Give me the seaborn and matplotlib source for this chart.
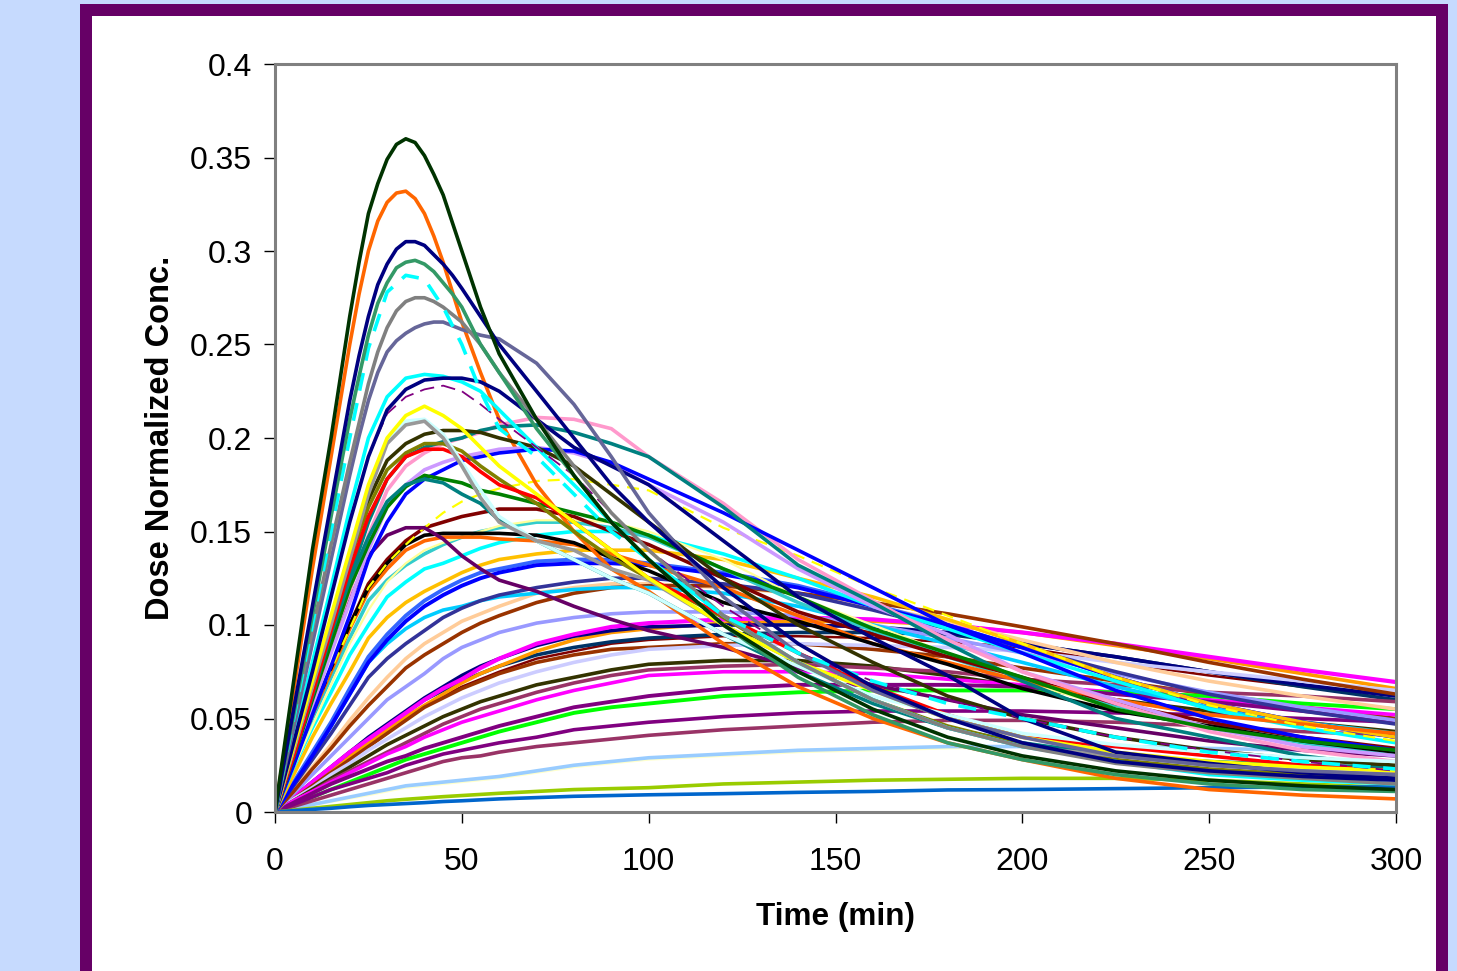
"""Dose normalized concentration profiles, one line per subject."""
import matplotlib
matplotlib.use("Agg")
import matplotlib.pyplot as plt
from matplotlib.patches import Rectangle
import seaborn as sns

W, H = 1457, 971

TIMES = [0, 5, 10, 15, 20, 25, 30, 35, 40, 45, 50, 55, 60, 70, 80, 90, 100, 120, 140, 160, 180, 200, 225, 250, 275, 300]
# the tallest curves turn fast around the peak, so they are read more often there
PEAK_TIMES = [0, 5, 10, 15, 20, 22.5, 25, 27.5, 30, 32.5, 35, 37.5, 40, 42.5, 45, 47.5, 50, 55, 60, 70, 80, 90, 100, 120, 140, 160, 180, 200, 225, 250, 275, 300]
X_TICKS = [0, 50, 100, 150, 200, 250, 300]
Y_TICKS = [0, 0.05, 0.1, 0.15, 0.2, 0.25, 0.3, 0.35, 0.4]
Y_LABELS = ["0", "0.05", "0.1", "0.15", "0.2", "0.25", "0.3", "0.35", "0.4"]

# values, px converted to conc
dark_green = [0, .07, .14, .2, .265, .294, .32, .336, .349, .357, .36, .358, .351, .341, .33, .315, .30, .27, .245, .21, .18, .155, .135, .10, .075, .055, .04, .03, .022, .017, .014, .012]
orange_high = [0, .065, .13, .19, .25, .277, .30, .316, .326, .331, .332, .328, .32, .308, .294, .278, .262, .235, .21, .175, .15, .13, .118, .09, .067, .05, .037, .028, .018, .012, .009, .007]
navy_high = [0, .055, .11, .165, .22, .244, .265, .282, .293, .301, .305, .305, .303, .298, .293, .287, .28, .265, .25, .225, .2, .175, .155, .12, .09, .067, .05, .037, .027, .022, .019, .017]
sea_green = [0, .052, .105, .158, .21, .233, .255, .272, .283, .291, .294, .295, .293, .289, .283, .277, .27, .25, .235, .205, .18, .155, .135, .10, .072, .052, .037, .028, .02, .015, .012, .011]
gray_high = [0, .05, .097, .143, .187, .208, .229, .246, .259, .268, .273, .275, .275, .273, .27, .266, .262, .25, .235, .21, .185, .16, .14, .105, .08, .06, .045, .035, .026, .021, .018, .015]
slate = [0, .045, .09, .135, .18, .201, .22, .235, .246, .252, .256, .259, .261, .262, .262, .26, .258, .255, .253, .24, .218, .19, .16, .115, .085, .065, .05, .04, .03, .025, .022, .02]
cyan_dashed = [0, .05, .1, .15, .2, .248, .278, .287, .285, .27, .25, .225, .205, .19, .17, .15, .135, .105, .085, .07, .058, .05, .04, .032, .027, .023]
cyan_mid = [0, .04, .08, .12, .162, .2, .222, .232, .234, .233, .23, .225, .215, .195, .175, .155, .135, .105, .08, .06, .045, .035, .027, .02, .017, .015]
navy_mid = [0, .037, .075, .115, .155, .19, .215, .226, .231, .232, .232, .23, .225, .21, .195, .185, .175, .145, .115, .093, .073, .05, .032, .026, .021, .018]
purple_dashed = [0, .037, .076, .116, .156, .19, .213, .222, .226, .228, .225, .218, .21, .195, .18, .16, .14, .11, .085, .07, .06, .05, .04, .033, .027, .022]
yellow_high = [0, .035, .07, .105, .14, .175, .2, .212, .217, .212, .205, .195, .185, .17, .155, .14, .125, .1, .08, .065, .05, .04, .032, .027, .024, .022]
pale_cyan = [0, .034, .068, .102, .137, .172, .199, .209, .21, .202, .187, .172, .158, .145, .135, .125, .117, .095, .078, .062, .052, .042, .036, .032, .029, .027]
gray_mid = [0, .033, .067, .1, .135, .17, .197, .207, .209, .2, .185, .168, .155, .145, .14, .13, .124, .1, .08, .06, .045, .035, .03, .025, .022, .02]
dark_olive_high = [0, .033, .068, .103, .138, .167, .188, .197, .202, .204, .204, .203, .2, .195, .185, .17, .155, .125, .1, .08, .062, .05, .04, .033, .028, .025]
teal_high = [0, .03, .062, .095, .125, .155, .178, .19, .195, .198, .2, .204, .206, .207, .203, .197, .19, .163, .132, .112, .09, .07, .05, .04, .03, .024]
pink = [0, .03, .06, .09, .118, .148, .172, .185, .192, .197, .2, .203, .207, .211, .21, .205, .19, .165, .135, .113, .092, .075, .058, .043, .033, .027]
red = [0, .03, .063, .097, .13, .158, .178, .19, .194, .194, .19, .182, .175, .168, .155, .14, .125, .105, .085, .067, .052, .04, .035, .03, .025, .022]
blue_high = [0, .025, .052, .078, .105, .135, .155, .17, .178, .183, .188, .19, .192, .194, .193, .187, .178, .16, .14, .12, .10, .085, .065, .05, .04, .033]
lilac = [0, .028, .056, .085, .112, .14, .163, .175, .183, .187, .19, .192, .194, .195, .192, .186, .175, .155, .13, .11, .095, .075, .06, .045, .035, .03]
olive = [0, .032, .066, .1, .135, .163, .183, .192, .197, .197, .193, .185, .178, .165, .15, .136, .125, .104, .08, .06, .046, .036, .028, .023, .02, .018]
green = [0, .029, .06, .09, .12, .143, .163, .174, .18, .178, .176, .172, .17, .165, .16, .155, .148, .13, .115, .098, .085, .072, .055, .045, .038, .033]
teal_low = [0, .03, .062, .095, .124, .147, .166, .175, .178, .176, .17, .165, .156, .145, .135, .125, .117, .095, .075, .058, .045, .037, .03, .027, .025, .024]
yellow_dashed = [0, .027, .052, .076, .098, .12, .133, .143, .152, .16, .166, .17, .173, .177, .178, .175, .172, .152, .137, .12, .105, .09, .072, .057, .046, .038]
maroon = [0, .027, .052, .077, .1, .122, .135, .145, .152, .155, .158, .16, .162, .162, .158, .15, .143, .125, .107, .095, .083, .072, .058, .048, .04, .034]
pale_yellow_mid = [0, .024, .046, .068, .09, .108, .123, .133, .14, .144, .147, .15, .153, .156, .156, .155, .15, .135, .115, .1, .085, .07, .055, .045, .038, .032]
turquoise = [0, .027, .05, .072, .093, .113, .124, .132, .138, .143, .147, .15, .152, .155, .155, .152, .147, .13, .112, .097, .083, .07, .057, .045, .037, .03]
black = [0, .028, .053, .077, .1, .12, .133, .143, .148, .149, .149, .149, .149, .148, .144, .136, .129, .112, .102, .09, .079, .066, .054, .046, .038, .032]
orange_mid = [0, .027, .052, .075, .098, .118, .13, .14, .145, .147, .147, .147, .146, .145, .143, .138, .132, .12, .105, .09, .08, .07, .06, .052, .047, .042]
dark_purple = [0, .033, .064, .09, .113, .137, .148, .152, .152, .146, .137, .13, .124, .118, .11, .103, .097, .088, .077, .068, .06, .052, .045, .038, .033, .03]
cyan_low = [0, .024, .045, .064, .084, .1, .115, .123, .13, .133, .137, .141, .144, .148, .15, .15, .148, .138, .125, .11, .098, .085, .07, .055, .045, .037]
gold = [0, .02, .04, .058, .075, .093, .104, .112, .118, .123, .128, .132, .135, .138, .14, .14, .14, .135, .125, .115, .103, .09, .072, .058, .048, .04]
royal_blue = [0, .016, .032, .048, .066, .083, .095, .105, .113, .119, .124, .128, .13, .134, .135, .135, .133, .128, .121, .111, .1, .088, .072, .058, .048, .04]
blue_low = [0, .015, .03, .046, .063, .08, .092, .102, .11, .116, .121, .125, .128, .132, .133, .133, .132, .127, .12, .11, .1, .088, .072, .058, .048, .04]
sky = [0, .015, .03, .046, .063, .08, .09, .098, .104, .108, .11, .113, .115, .117, .119, .12, .12, .117, .11, .1, .09, .08, .067, .056, .048, .042]
indigo = [0, .014, .028, .042, .057, .072, .082, .09, .097, .104, .109, .113, .116, .12, .123, .125, .125, .122, .117, .108, .098, .088, .075, .063, .054, .047]
peach = [0, .012, .024, .036, .049, .061, .072, .082, .09, .096, .102, .106, .11, .117, .12, .122, .122, .12, .117, .11, .102, .092, .08, .07, .062, .055]
brown_high = [0, .011, .023, .034, .046, .057, .067, .077, .084, .09, .096, .101, .105, .112, .117, .12, .121, .121, .117, .112, .106, .099, .09, .08, .071, .063]
periwinkle = [0, .01, .02, .03, .04, .05, .06, .067, .074, .082, .088, .092, .096, .101, .104, .106, .107, .107, .105, .1, .093, .085, .074, .064, .056, .049]
magenta_high = [0, .008, .016, .024, .032, .039, .046, .053, .06, .066, .071, .077, .082, .09, .095, .099, .101, .103, .104, .103, .1, .096, .09, .083, .076, .0695]
orange_low = [0, .008, .015, .023, .03, .037, .044, .051, .057, .063, .069, .074, .078, .086, .092, .096, .098, .101, .102, .102, .1, .096, .089, .082, .074, .066]
navy_low = [0, .008, .016, .024, .032, .04, .047, .054, .061, .067, .073, .078, .082, .089, .094, .097, .099, .1, .1, .099, .096, .09, .083, .075, .068, .062]
steel_navy = [0, .008, .016, .024, .032, .039, .046, .053, .06, .065, .07, .074, .078, .084, .088, .091, .093, .095, .096, .096, .095, .09, .083, .075, .067, .06]
dark_red_thin = [0, .007, .014, .021, .028, .035, .042, .05, .057, .062, .067, .071, .075, .082, .086, .09, .092, .094, .094, .093, .091, .088, .08, .073, .067, .0625]
brown_low = [0, .007, .014, .021, .028, .035, .042, .049, .056, .061, .066, .07, .074, .08, .084, .087, .088, .09, .09, .087, .083, .077, .07, .063, .056, .05]
lavender = [0, .007, .013, .02, .026, .033, .039, .045, .051, .056, .061, .065, .069, .075, .08, .084, .087, .089, .09, .089, .088, .086, .08, .075, .07, .065]
dark_olive_low = [0, .006, .012, .018, .024, .03, .036, .041, .046, .051, .055, .059, .062, .068, .072, .076, .079, .081, .081, .078, .073, .067, .06, .054, .048, .043]
plum_high = [0, .006, .011, .017, .022, .027, .032, .037, .042, .047, .051, .055, .058, .064, .069, .073, .076, .078, .079, .077, .075, .071, .068, .064, .062, .059]
magenta_low = [0, .006, .011, .016, .021, .026, .031, .035, .04, .044, .048, .051, .054, .06, .065, .069, .073, .075, .075, .074, .071, .068, .064, .06, .056, .052]
purple_high = [0, .005, .01, .015, .019, .023, .027, .03, .034, .037, .04, .043, .046, .051, .056, .059, .062, .066, .068, .068, .068, .067, .063, .059, .054, .049]
lime = [0, .004, .008, .012, .016, .02, .024, .028, .031, .034, .037, .04, .043, .048, .053, .056, .058, .062, .064, .065, .065, .065, .064, .062, .058, .055]
purple_low = [0, .004, .008, .012, .015, .018, .021, .025, .028, .031, .033, .035, .037, .04, .044, .046, .048, .051, .053, .054, .054, .054, .053, .052, .05, .048]
plum_low = [0, .003, .006, .009, .012, .015, .018, .021, .024, .027, .029, .03, .032, .035, .037, .039, .041, .044, .046, .048, .049, .049, .048, .046, .043, .041]
light_sky = [0, .002, .004, .006, .008, .01, .012, .014, .015, .016, .017, .018, .019, .022, .025, .027, .029, .031, .033, .034, .035, .035, .035, .034, .033, .031]
pale_yellow_low = [0, .0018, .0036, .0054, .0072, .009, .011, .013, .014, .015, .016, .017, .018, .021, .024, .026, .028, .03, .032, .033, .034, .035, .035, .034, .033, .032]
yellow_green = [0, .001, .002, .003, .004, .005, .006, .0068, .0075, .0082, .0088, .0094, .01, .011, .012, .0125, .013, .015, .016, .017, .0175, .018, .018, .017, .015, .013]
mid_blue = [0, .0007, .0014, .002, .0028, .0035, .004, .0045, .005, .0056, .006, .0065, .007, .0077, .0084, .0088, .0092, .0098, .0105, .011, .0118, .012, .0125, .013, .0134, .0134]

# values, colour, width in points, dash pattern (None = solid); drawn in this order
CURVES = [
    (pale_yellow_low, "#FFFFCC", 1.6, None),
    (light_sky, "#99CCFF", 2.6, None),
    (dark_red_thin, "#800000", 1.8, None),
    (steel_navy, "#003366", 2.6, None),
    (orange_low, "#FF9900", 2.6, None),
    (navy_low, "#000080", 2.6, None),
    (magenta_high, "#FF00FF", 3.0, None),
    (brown_low, "#993300", 2.6, None),
    (lavender, "#CCCCFF", 2.6, None),
    (dark_olive_low, "#333300", 2.6, None),
    (plum_high, "#993366", 2.6, None),
    (magenta_low, "#FF00FF", 2.6, None),
    (lime, "#00FF00", 2.8, None),
    (purple_high, "#800080", 2.8, None),
    (plum_low, "#993366", 2.6, None),
    (purple_low, "#800080", 2.6, None),
    (yellow_green, "#99CC00", 2.6, None),
    (mid_blue, "#0066CC", 2.6, None),
    (periwinkle, "#9999FF", 2.6, None),
    (peach, "#FFCC99", 2.6, None),
    (brown_high, "#993300", 2.6, None),
    (sky, "#00CCFF", 2.6, None),
    (indigo, "#333399", 2.6, None),
    (royal_blue, "#3366FF", 2.8, None),
    (blue_low, "#0000FF", 2.8, None),
    (gold, "#FFC000", 2.6, None),
    (cyan_low, "#00FFFF", 2.6, None),
    (turquoise, "#33CCCC", 2.6, None),
    (pale_yellow_mid, "#FFFF99", 1.6, None),
    (maroon, "#800000", 2.6, None),
    (orange_mid, "#FF6600", 2.6, None),
    (black, "#000000", 2.6, None),
    (yellow_dashed, "#FFFF00", 1.6, (5.4, 3.6)),
    (dark_purple, "#660066", 2.6, None),
    (orange_high, "#FF6600", 2.6, None),
    (lilac, "#CC99FF", 2.6, None),
    (pink, "#FF99CC", 2.6, None),
    (blue_high, "#0000FF", 2.6, None),
    (teal_high, "#008080", 2.6, None),
    (green, "#008000", 2.6, None),
    (teal_low, "#008080", 2.6, None),
    (dark_olive_high, "#333300", 2.6, None),
    (olive, "#808000", 2.6, None),
    (red, "#FF0000", 2.6, None),
    (pale_cyan, "#CCFFFF", 2.6, None),
    (gray_mid, "#999999", 2.6, None),
    (yellow_high, "#FFFF00", 2.6, None),
    (cyan_mid, "#00FFFF", 2.6, None),
    (purple_dashed, "#800080", 1.3, (8, 4)),
    (navy_mid, "#000080", 2.6, None),
    (slate, "#666699", 2.6, None),
    (gray_high, "#808080", 2.6, None),
    (cyan_dashed, "#00FFFF", 2.6, (5, 3.5)),
    (sea_green, "#339966", 2.6, None),
    (navy_high, "#000080", 2.6, None),
    (dark_green, "#003300", 2.6, None),
]


def add_frame(fig):
    # purple poster border behind the chart, runs off the bottom edge
    outer = Rectangle((80 / W, 0), 1368 / W, 1 - 4 / H, transform=fig.transFigure, fc="#660066", ec="none", zorder=-3)
    inner = Rectangle((92 / W, 0), 1344 / W, 1 - 16 / H, transform=fig.transFigure, fc="white", ec="none", zorder=-2)
    fig.add_artist(outer)
    fig.add_artist(inner)


sns.set_theme(style="white")
plt.rcParams["font.family"] = ["Liberation Sans", "DejaVu Sans"]

fig = plt.figure(figsize=(W / 100, H / 100), dpi=100, facecolor="#C6DAFE")
add_frame(fig)
ax = fig.add_axes([275 / W, 1 - 812 / H, 1121 / W, 748 / H])
ax.patch.set_alpha(0)

for values, color, width, dashes in CURVES:
    times = PEAK_TIMES if len(values) == len(PEAK_TIMES) else TIMES
    line = sns.lineplot(x=times, y=values, color=color, linewidth=width, ax=ax, errorbar=None, estimator=None, sort=False).lines[-1]
    line.set_solid_joinstyle("round")
    if dashes:
        line.set_dashes(dashes)

ax.set_xlim(0, 300)
ax.set_ylim(0, 0.4)
ax.set_xticks(X_TICKS)
ax.set_yticks(Y_TICKS)
ax.set_yticklabels(Y_LABELS)
ax.tick_params(axis="both", length=8, width=1, color="black", labelsize=23, labelcolor="black", left=True, bottom=True)
ax.tick_params(axis="x", pad=17)
ax.tick_params(axis="y", pad=8.5)
ax.set_xlabel("Time (min)", fontsize=22.7, fontweight="bold", color="black", labelpad=18.5)
ax.set_ylabel("Dose Normalized Conc.", fontsize=23.5, fontweight="bold", color="black", labelpad=10)
for spine in ax.spines.values():
    spine.set_color("#808080")
    spine.set_linewidth(2.2)
    spine.set_visible(True)

fig.savefig("out.png", dpi=100, facecolor=fig.get_facecolor())
